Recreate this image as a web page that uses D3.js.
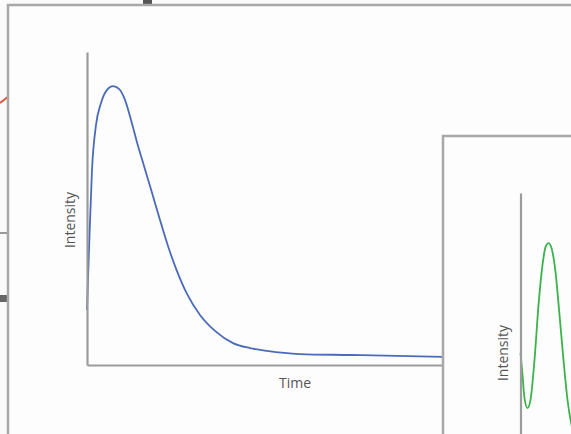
<!DOCTYPE html>
<html>
<head>
<meta charset="utf-8">
<script src="https://cdn.jsdelivr.net/npm/d3@7"></script>
<style>
  body { margin: 0; background: #fafafa; }
  text { font-family: "Open Sans", "Liberation Sans", sans-serif; fill: #555; }
</style>
</head>
<body>
<div id="viz"></div>
<script>
// decay curve (blue) - time vs intensity
const blueTime = [0, 0.056, 0.14, 0.253, 0.393, 0.562, 0.73, 0.899, 1.067, 1.236, 1.404, 1.601, 1.826, 2.051, 2.275, 2.528, 2.809, 3.174, 3.596, 4.101, 4.579, 5.056, 5.983, 7.388, 10];
const blueIntensity = [0.176, 0.367, 0.623, 0.767, 0.837, 0.879, 0.891, 0.882, 0.847, 0.783, 0.712, 0.636, 0.55, 0.463, 0.38, 0.3, 0.227, 0.16, 0.109, 0.07, 0.054, 0.045, 0.035, 0.032, 0.026];

// oscillation (green), only its start is visible
const greenTime = [0, 0.056, 0.112, 0.197, 0.281, 0.393, 0.506, 0.618, 0.702, 0.787, 0.871, 0.983, 1.096, 1.208, 1.32, 1.433, 1.545];
const greenIntensity = [0.489, 0.419, 0.345, 0.313, 0.339, 0.466, 0.642, 0.77, 0.827, 0.84, 0.824, 0.748, 0.61, 0.466, 0.339, 0.259, 0.211];

const axisLabels = { x: "Time", y: "Intensity" };

const width = 571, height = 434;
const svg = d3.select("#viz").append("svg")
    .attr("width", width)
    .attr("height", height);

// bits of the panels lying behind
svg.append("line").attr("x1", 0).attr("y1", 103).attr("x2", 9).attr("y2", 96)
    .attr("stroke", "#e0553a").attr("stroke-width", 2);
svg.append("line").attr("x1", 0).attr("y1", 233).attr("x2", 9).attr("y2", 233)
    .attr("stroke", "#999").attr("stroke-width", 2);
svg.append("rect").attr("x", 0).attr("y", 295).attr("width", 9).attr("height", 7)
    .attr("fill", "#666");
svg.append("rect").attr("x", 143).attr("y", 0).attr("width", 9).attr("height", 5)
    .attr("fill", "#555");

function drawPanel(px, py, axisX, axisTop, axisLen, xLen, time, intensity, color, labelX, labelY, showTime) {
    svg.append("rect")
        .attr("x", px).attr("y", py)
        .attr("width", width + 10 - px).attr("height", height + 10 - py)
        .attr("fill", "#fdfdfd")
        .attr("stroke", "#a8a8a8")
        .attr("stroke-width", 2.5);

    const x = d3.scaleLinear().domain([0, 10]).range([axisX, axisX + xLen]);
    const y = d3.scaleLinear().domain([0, 1]).range([axisTop + axisLen, axisTop]);

    const line = d3.line()
        .x(d => x(d[0]))
        .y(d => y(d[1]))
        .curve(d3.curveMonotoneX);

    svg.append("path")
        .datum(time.map((t, i) => [t, intensity[i]]))
        .attr("d", line)
        .attr("fill", "none")
        .attr("stroke", color)
        .attr("stroke-width", 1.8);

    const yAxis = svg.append("g")
        .attr("transform", `translate(${axisX},0)`)
        .call(d3.axisLeft(y).ticks(0).tickSize(0));
    const xAxis = svg.append("g")
        .attr("transform", `translate(0,${axisTop + axisLen})`)
        .call(d3.axisBottom(x).ticks(0).tickSize(0));
    [xAxis, yAxis].forEach(a => a.select(".domain").attr("stroke", "#9c9c9c").attr("stroke-width", 2.2));

    svg.append("text")
        .attr("transform", `translate(${labelX},${labelY}) rotate(-90)`)
        .attr("text-anchor", "middle")
        .attr("font-size", "14px")
        .text(axisLabels.y);

    if (showTime) {
        svg.append("text")
            .attr("x", (axisX + 443) / 2 + 30)
            .attr("y", 388)
            .attr("text-anchor", "middle")
            .attr("font-size", "14px")
            .text(axisLabels.x);
    }
}

drawPanel(8, 5, 87, 52, 313, 356, blueTime, blueIntensity, "#4a6cb8", 75, 220, true);
drawPanel(443, 136, 520.5, 193, 313, 356, greenTime, greenIntensity, "#3ab34a", 508, 353, false);
</script>
</body>
</html>
